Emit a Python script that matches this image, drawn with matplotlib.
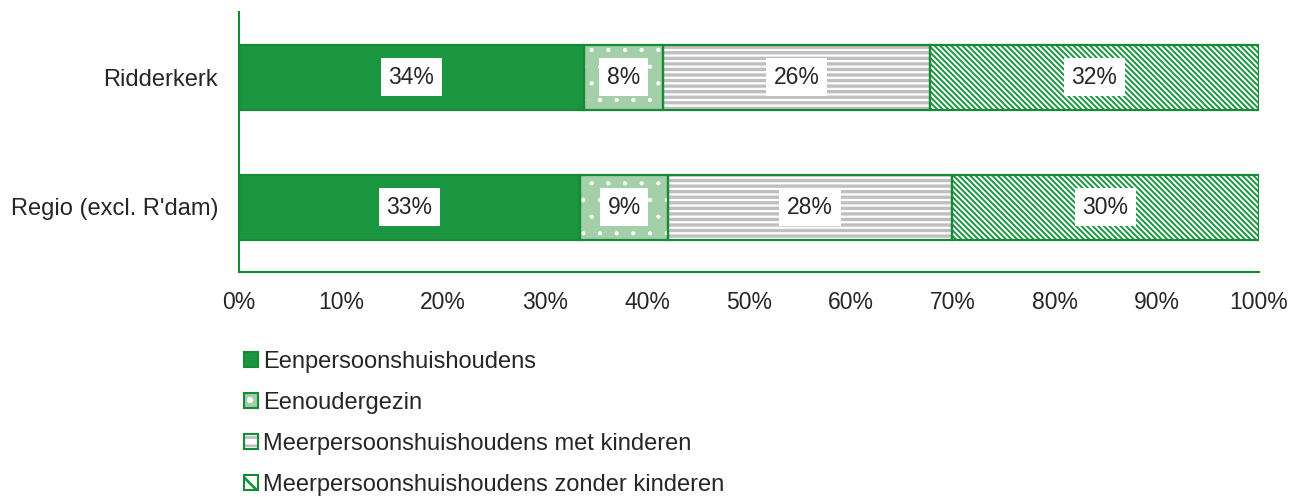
import matplotlib
matplotlib.use("Agg")
import matplotlib as mpl
import matplotlib.pyplot as plt
from matplotlib.patches import Patch
from matplotlib.legend_handler import HandlerTuple

plt.rcParams['font.family'] = ['Liberation Sans', 'DejaVu Sans']

categories = ["Ridderkerk", "Regio (excl. R'dam)"]
series = ["Eenpersoonshuishoudens", "Eenoudergezin",
          "Meerpersoonshuishoudens met kinderen",
          "Meerpersoonshuishoudens zonder kinderen"]
ridderkerk = [33.8, 7.8, 26.1, 32.3]
regio = [33.4, 8.7, 27.8, 30.1]
values = [ridderkerk, regio]
xticks = [0, 10, 20, 30, 40, 50, 60, 70, 80, 90, 100]

GREEN = '#1b9640'
EDGE = '#178a38'
LIGHT = '#a3d0a9'
GREY = '#bfbfbf'
TXT = '#262626'

# (face, hatch, hatch colour, hatch lw)
styles = [
    (GREEN, None, GREEN, 1.0),
    (LIGHT, '.', 'white', 0.6),
    ('white', '---', GREY, 2.4),
    ('white', '\\\\\\\\\\\\', GREEN, 1.4),
]

fig = plt.figure(figsize=(12.92, 4.97), dpi=100)
ax = fig.add_axes([239/1292, 1-272/497, 1020/1292, 260/497])

for ci, cat in enumerate(categories):
    left = 0
    for si, v in enumerate(values[ci]):
        face, hatch, hcol, hlw = styles[si]
        with mpl.rc_context({'hatch.linewidth': hlw}):
            b = ax.barh(ci, v, left=left, height=0.5, facecolor=face,
                        edgecolor=hcol, hatch=hatch, linewidth=0, zorder=2)
        for p in b:
            p.set_hatch_linewidth(hlw)
        ax.barh(ci, v, left=left, height=0.5, facecolor='none',
                edgecolor=EDGE, linewidth=1.6, zorder=3)
        ax.text(left + v/2, ci, f"{round(v):d}%", ha='center', va='center',
                fontsize=16.5, color=TXT, zorder=4,
                bbox=dict(boxstyle='square,pad=0.34', facecolor='white',
                          edgecolor='none'))
        left += v

ax.set_xlim(0, 100)
ax.set_ylim(1.5, -0.5)
ax.set_yticks(range(len(categories)))
ax.set_yticklabels(categories, fontsize=17)
ax.set_xticks(xticks)
ax.set_xticklabels([f"{t}%" for t in xticks], fontsize=16.5)
ax.tick_params(axis='both', length=0, labelcolor=TXT)
ax.tick_params(axis='x', pad=14)
ax.tick_params(axis='y', pad=15)
for s in ['top', 'right']:
    ax.spines[s].set_visible(False)
for s in ['left', 'bottom']:
    ax.spines[s].set_color(EDGE)
    ax.spines[s].set_linewidth(1.5)

handles = []
for si in range(4):
    face, hatch, hcol, hlw = styles[si]
    p1 = Patch(facecolor=face, edgecolor=hcol,
               hatch=(hatch[:2] if hatch else None), linewidth=0)
    p2 = Patch(facecolor='none', edgecolor=EDGE, linewidth=1.5)
    handles.append((p1, p2))

with mpl.rc_context({'hatch.linewidth': 2.0}):
    leg = fig.legend(handles, series, loc='upper left',
                     bbox_to_anchor=(244/1292, 1-351/497), borderaxespad=0,
                     borderpad=0, frameon=False, fontsize=17, labelcolor=TXT,
                     handlelength=0.6, handleheight=0.6, handletextpad=0.2,
                     labelspacing=0.8,
                     handler_map={tuple: HandlerTuple(ndivide=1, pad=0)})
for art in leg.get_patches():
    art.set_hatch_linewidth(2.0)

fig.savefig('out.png', dpi=100)
